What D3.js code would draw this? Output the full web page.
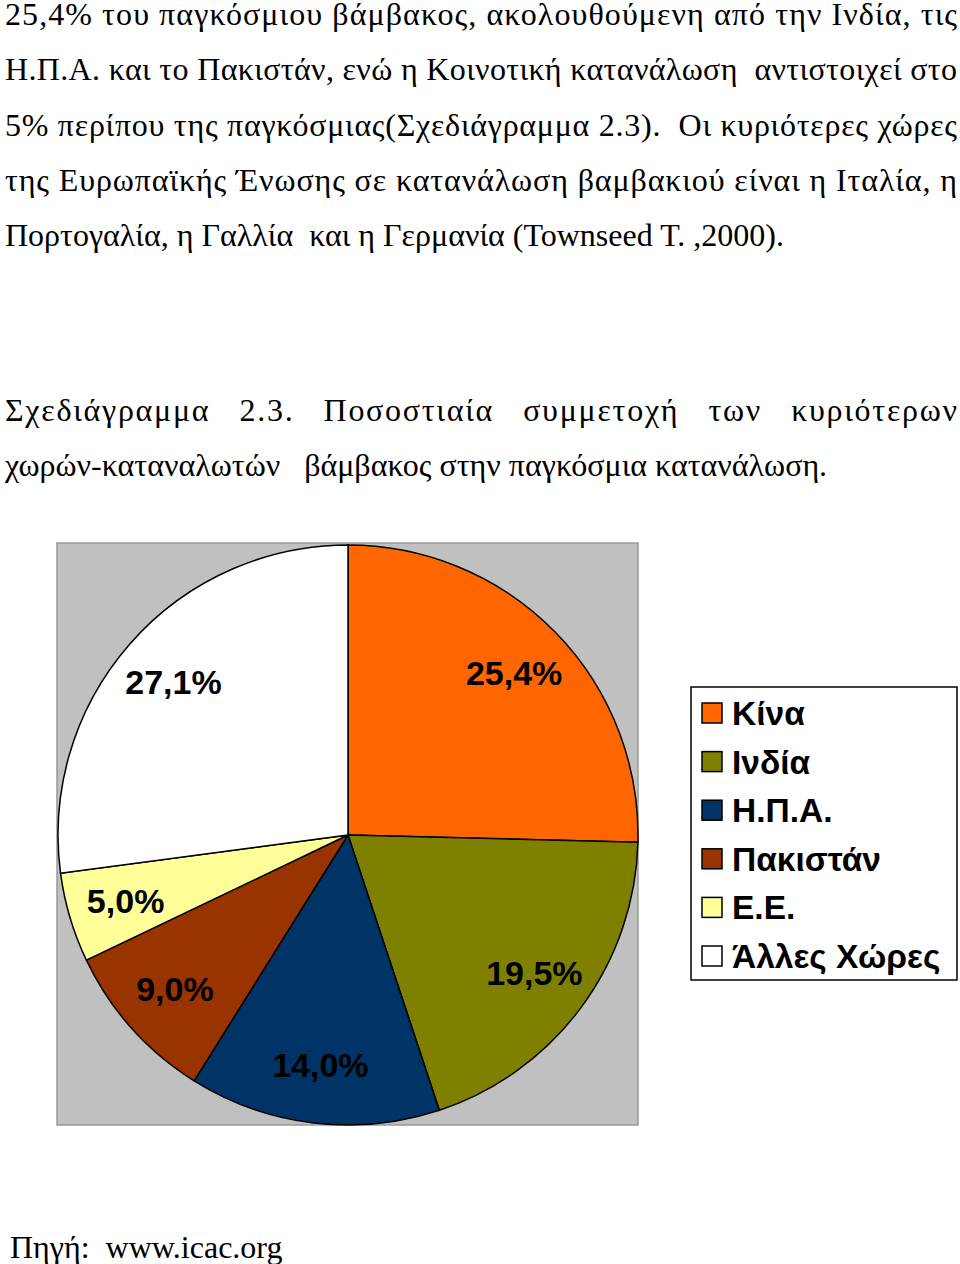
<!DOCTYPE html>
<html><head><meta charset="utf-8">
<script src="https://cdn.jsdelivr.net/npm/d3@7"></script>
<style>body{margin:0;background:#fff}</style></head>
<body><svg id="c" width="960" height="1264"></svg>
<script>
const categories=["Κίνα","Ινδία","Η.Π.Α.","Πακιστάν","Ε.Ε.","Άλλες Χώρες"];
const values=[25.4,19.5,14.0,9.0,5.0,27.1];
const labels=["25,4%","19,5%","14,0%","9,0%","5,0%","27,1%"];
const colors=["#FF6600","#808000","#003366","#993300","#FFFF99","#FFFFFF"];
const paraLines=[
 ["25,4% του παγκόσμιου βάμβακος, ακολουθούμενη από την Ινδία, τις",true],
 ["Η.Π.Α. και το Πακιστάν, ενώ η Κοινοτική κατανάλωση  αντιστοιχεί στο",true],
 ["5% περίπου της παγκόσμιας(Σχεδιάγραμμα 2.3).  Οι κυριότερες χώρες",true],
 ["της Ευρωπαϊκής Ένωσης σε κατανάλωση βαμβακιού είναι η Ιταλία, η",true],
 ["Πορτογαλία, η Γαλλία  και η Γερμανία (Townseed T. ,2000).",false]];
const captionLines=[
 ["Σχεδιάγραμμα   2.3.   Ποσοστιαία   συμμετοχή   των   κυριότερων",true],
 ["χωρών-καταναλωτών   βάμβακος στην παγκόσμια κατανάλωση.",false]];
const svg=d3.select("#c");
function textBlock(lines,y0){
 lines.forEach(([t,j],i)=>{
  const el=svg.append("text").attr("x",5).attr("y",y0+i*55.3)
   .attr("font-family","Liberation Serif").attr("font-size",32)
   .attr("xml:space","preserve").style("white-space","pre").text(t);
  if(j) el.attr("textLength",952).attr("lengthAdjust","spacing");
 });
}
textBlock(paraLines,25);
textBlock(captionLines,421);
svg.append("rect").attr("x",57).attr("y",543).attr("width",581).attr("height",582)
 .attr("fill","#C0C0C0").attr("stroke","#999").attr("stroke-width",1.5);
const cx=348,cy=835,R=290;
const pie=d3.pie().sort(null).value(d=>d)(values);
const arc=d3.arc().innerRadius(0).outerRadius(R);
const lab=d3.arc().innerRadius(R*0.8).outerRadius(R*0.8);
const g=svg.append("g").attr("transform",`translate(${cx},${cy})`);
g.selectAll("path").data(pie).join("path").attr("d",arc)
 .attr("fill",(d,i)=>colors[i]).attr("stroke","#000").attr("stroke-width",1.5);
g.selectAll("text").data(pie).join("text")
 .attr("transform",d=>`translate(${lab.centroid(d)})`)
 .attr("text-anchor","middle").attr("dy","0.35em")
 .attr("font-family","Liberation Sans").attr("font-weight","bold").attr("font-size",34)
 .text((d,i)=>labels[i]);
svg.append("rect").attr("x",691).attr("y",687).attr("width",266).attr("height",293)
 .attr("fill","#fff").attr("stroke","#000").attr("stroke-width",1.5);
const ly=d3.scalePoint().domain(categories).range([713,956]);
categories.forEach((c,i)=>{
 svg.append("rect").attr("x",702).attr("y",ly(c)-10).attr("width",20).attr("height",20)
  .attr("fill",colors[i]).attr("stroke","#000").attr("stroke-width",1.5);
 svg.append("text").attr("x",732).attr("y",ly(c)).attr("dy","0.36em")
  .attr("font-family","Liberation Sans").attr("font-weight","bold").attr("font-size",33.5).text(c);
});
svg.append("text").attr("x",10).attr("y",1258).attr("font-family","Liberation Serif")
 .attr("font-size",32).attr("xml:space","preserve").style("white-space","pre").text("Πηγή:  www.icac.org");
</script></body></html>
